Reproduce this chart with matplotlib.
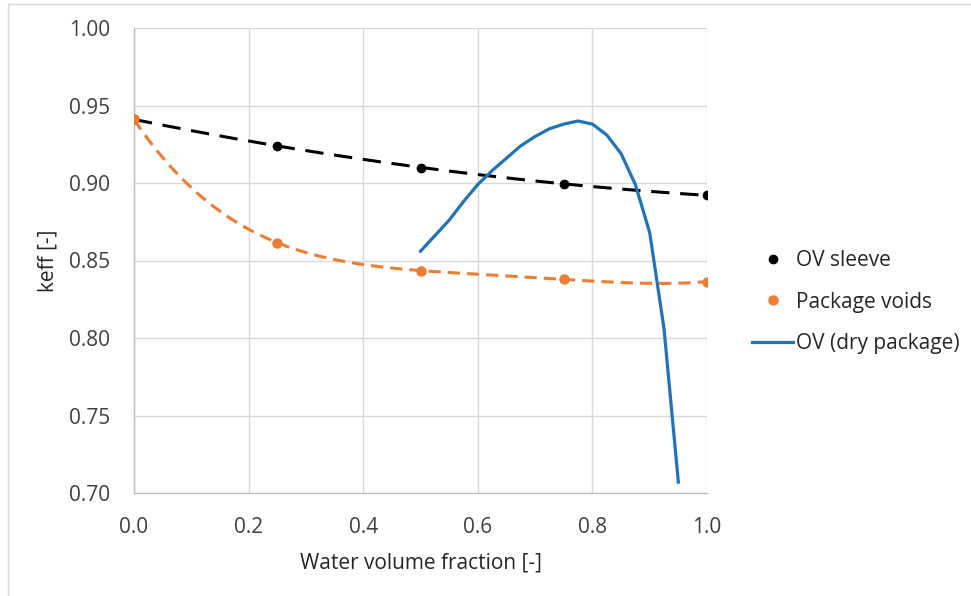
import numpy as np
import matplotlib
matplotlib.use('Agg')
import matplotlib.pyplot as plt
from matplotlib.patches import Rectangle
from matplotlib.lines import Line2D

plt.rcParams['font.family'] = ['Open Sans', 'DejaVu Sans']

# data
frac = [0.0, 0.25, 0.5, 0.75, 1.0]
ov_sleeve = [0.941, 0.924, 0.910, 0.8995, 0.892]
package_voids = [0.941, 0.8615, 0.8435, 0.8378, 0.8364]

dry_x = [0.500, 0.525, 0.550, 0.575, 0.600, 0.625, 0.650, 0.675, 0.700, 0.725,
         0.750, 0.775, 0.800, 0.825, 0.850, 0.875, 0.900, 0.925, 0.950]
dry_keff = [0.856, 0.866, 0.876, 0.888, 0.899, 0.908, 0.916, 0.924, 0.930, 0.935,
            0.938, 0.940, 0.938, 0.931, 0.919, 0.899, 0.868, 0.806, 0.707]

x_ticks = [0.0, 0.2, 0.4, 0.6, 0.8, 1.0]
y_ticks = [0.70, 0.75, 0.80, 0.85, 0.90, 0.95, 1.00]

black = '#000000'
orange = '#ED7D31'
blue = '#2272B9'
grid_c = '#D9D9D9'
fs = 15

fig = plt.figure(figsize=(9.71, 5.96), dpi=100)
ax = fig.add_axes([134 / 971, 1 - 493 / 596, (707 - 134) / 971, (493 - 28) / 596])

# chart border
fig.patches.append(Rectangle((8 / 971, -0.01), 1.0, 1 - 4 / 596 + 0.01,
                             transform=fig.transFigure, fill=False,
                             edgecolor='#D9D9D9', linewidth=1.0))

# trendlines (Excel style polynomial trendlines)
xs = np.linspace(0, 1, 200)
p_black = np.polyfit(frac, ov_sleeve, 2)
p_orange = np.polyfit(frac, package_voids, 4)
ax.plot(xs, np.polyval(p_black, xs), color=black, lw=2.2, dashes=(6, 3.5), zorder=3)
ax.plot(xs, np.polyval(p_orange, xs), color=orange, lw=2.2, dashes=(4, 2.3), zorder=3)

ax.plot(frac, ov_sleeve, 'o', color=black, ms=6, zorder=4)
ax.plot(frac, package_voids, 'o', color=orange, ms=6.5, zorder=4)
ax.plot(dry_x, dry_keff, color=blue, lw=2.3, zorder=5, solid_joinstyle='round')

ax.set_xlim(0, 1)
ax.set_ylim(0.70, 1.00)
ax.set_xticks(x_ticks)
ax.set_yticks(y_ticks)
ax.set_xticklabels(['%.1f' % v for v in x_ticks])
ax.set_yticklabels(['%.2f' % v for v in y_ticks])
ax.tick_params(length=0, labelsize=fs, colors='#404040')
ax.tick_params(axis='y', pad=17)
ax.tick_params(axis='x', pad=17)
ax.grid(True, color=grid_c, lw=1.0)
ax.set_axisbelow(True)
for side in ['top', 'right']:
    ax.spines[side].set_visible(False)
for side in ['left', 'bottom']:
    ax.spines[side].set_color('#BFBFBF')
    ax.spines[side].set_linewidth(1.0)

ax.set_xlabel('Water volume fraction [-]', fontsize=fs, color='#262626', labelpad=11)
ax.set_ylabel('keff [-]', fontsize=fs, color='#262626', labelpad=8)

handles = [
    Line2D([], [], ls='none', marker='o', color=black, ms=6),
    Line2D([], [], ls='none', marker='o', color=orange, ms=6.5),
    Line2D([], [], color=blue, lw=2.3),
]
labels = ['OV sleeve', 'Package voids', 'OV (dry package)']
fig.legend(handles, labels, loc='center left', bbox_to_anchor=(742 / 971, 1 - 302 / 596),
           frameon=False, fontsize=fs, labelspacing=0.98, handlelength=1.95,
           handletextpad=0.15, labelcolor='#262626', borderpad=0)

fig.savefig('out.png', dpi=100)
